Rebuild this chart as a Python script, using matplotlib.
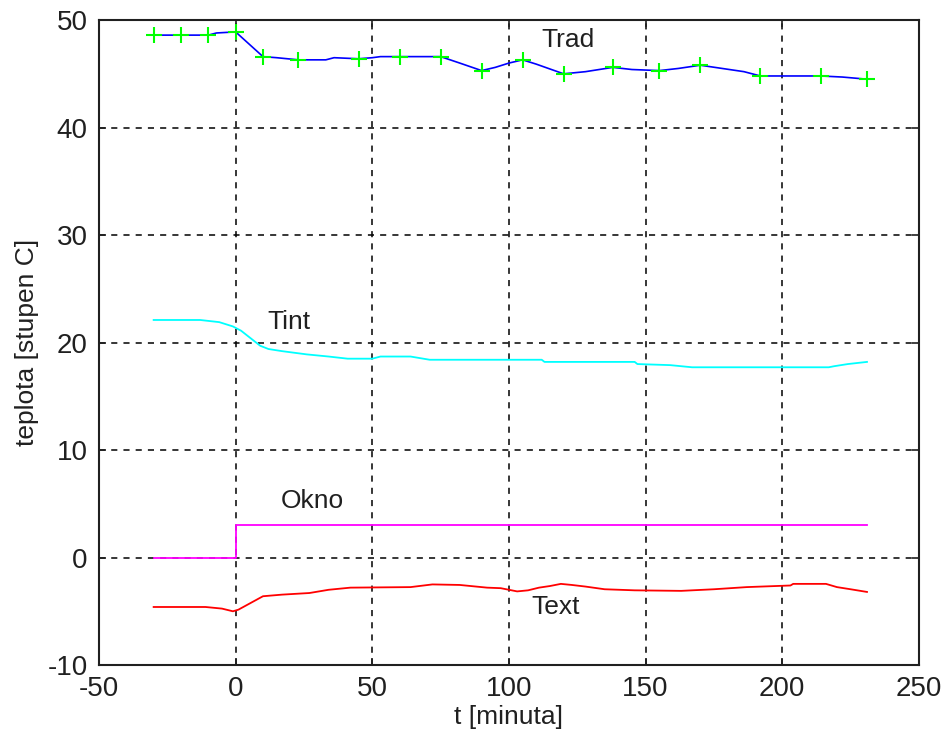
import matplotlib
matplotlib.use("Agg")
import matplotlib.pyplot as plt

plt.rcParams['font.family'] = ['Liberation Sans', 'DejaVu Sans']
plt.rcParams['axes.unicode_minus'] = False

# Trad - line and measured points (+)
trad_t = [-30, -20, -10, -7, 0, 10, 15, 23, 33, 36, 45, 50, 53, 60, 75, 82, 90, 95, 100, 105,
          110, 120, 128, 138, 145, 155, 162, 170, 178, 186, 192, 200, 214, 222, 231]
trad_y = [48.6, 48.6, 48.6, 48.8, 48.9, 46.6, 46.5, 46.3, 46.3, 46.5, 46.4, 46.5, 46.6, 46.6, 46.6, 46.0,
          45.3, 45.6, 46.0, 46.3, 45.9, 45.0, 45.2, 45.6, 45.4, 45.3, 45.5, 45.8, 45.5, 45.2, 44.8,
          44.8, 44.8, 44.7, 44.5]
trad_mt = [-30, -20, -10, 0, 10, 23, 45, 60, 75, 90, 105, 120, 138, 155, 170, 192, 214, 231]
trad_my = [48.6, 48.6, 48.6, 48.9, 46.6, 46.3, 46.4, 46.6, 46.6, 45.3, 46.3, 45.0, 45.6, 45.3,
           45.8, 44.8, 44.8, 44.5]

# Tint
tint_t = [-30, -13, -6, -1, 2, 9, 12, 17, 26, 34, 41, 50, 53, 64, 71, 100, 112, 113, 146, 147,
          159, 167, 217, 219, 224, 231]
tint_y = [22.1, 22.1, 21.9, 21.5, 21.1, 19.7, 19.4, 19.2, 18.9, 18.7, 18.5, 18.5, 18.7, 18.7,
          18.4, 18.4, 18.4, 18.2, 18.2, 18.0, 17.9, 17.7, 17.7, 17.8, 18.0, 18.2]

# Okno
okno_t = [-30, 0, 0, 231]
okno_y = [0, 0, 3, 3]

# Text
text_t = [-30, -11, -5, -1, 1, 10, 17, 27, 34, 42, 64, 72, 82, 92, 97, 103, 107, 111, 115,
          119, 123, 128, 135, 146, 163, 175, 187, 203, 204, 216, 220, 225, 231]
text_y = [-4.6, -4.6, -4.75, -5.0, -4.85, -3.6, -3.45, -3.3, -3.0, -2.8, -2.75, -2.5, -2.55,
          -2.8, -2.85, -3.15, -3.05, -2.8, -2.65, -2.45, -2.55, -2.7, -2.95, -3.05, -3.1, -2.95,
          -2.75, -2.6, -2.45, -2.45, -2.75, -2.95, -3.2]

labels = {"Trad": (121.5, 48.1), "Tint": (19.5, 21.9), "Okno": (28, 5.3), "Text": (117, -4.6)}

fig = plt.figure(figsize=(9.49, 7.49), dpi=100)
ax = fig.add_axes([0.1043, 0.1121, 0.8640, 0.8611])

ax.plot(trad_t, trad_y, color="#0000ff", lw=1.2)
ax.plot(trad_mt, trad_my, ls="none", marker="+", ms=12, mew=1.5, color="#00ff00")
ax.plot(tint_t, tint_y, color="#00ffff", lw=1.3)
ax.plot(okno_t, okno_y, color="#ff00ff", lw=1.3)
ax.plot(text_t, text_y, color="#ff0000", lw=1.3)

for name, (x, y) in labels.items():
    ax.text(x, y, name, fontsize=19, ha="center", va="center", color="#202020")

ax.set_xlim(-50, 250)
ax.set_ylim(-10, 50)
ax.set_xticks(range(-50, 251, 50))
ax.set_yticks(range(-10, 51, 10))
ax.grid(True, color="black", ls=(0, (4, 4)), lw=1.1)
ax.tick_params(direction="in", top=True, right=True, length=5, width=1.2,
               labelsize=20, colors="#202020", pad=8)
for s in ax.spines.values():
    s.set_linewidth(1.5)
    s.set_color("#202020")

ax.set_xlabel("t [minuta]", fontsize=19, color="#202020", labelpad=2)
ax.set_ylabel("teplota [stupen C]", fontsize=19, color="#202020", labelpad=6)

fig.savefig("out.png", dpi=100)
